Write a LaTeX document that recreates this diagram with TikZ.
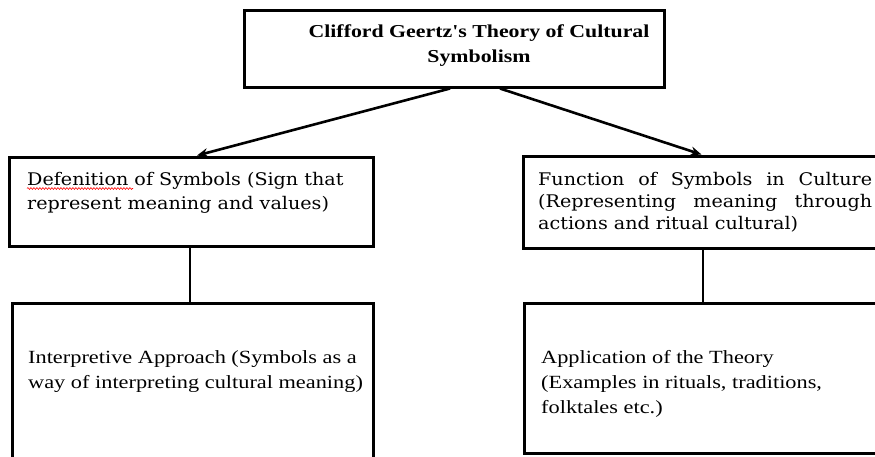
\documentclass[tikz,border=0pt]{standalone}
\usepackage{fontspec}
\setmainfont{Liberation Serif}[FakeStretch=1.2]
\newfontfamily\titlefont{Liberation Serif}[FakeStretch=1.2]
\newfontfamily\geofont{DejaVu Serif}[FakeStretch=1.1]
\usetikzlibrary{arrows.meta,decorations.pathmorphing}
\begin{document}
\begin{tikzpicture}[x=1pt,y=-1pt,
  box/.style={draw=black,line width=3pt,rectangle,inner sep=0pt,fill=white},
  conn/.style={line width=2.6pt,draw=black},
  arr/.style={conn,-{Stealth[length=11pt,width=9pt]}},
  txt/.style={inner sep=0pt,anchor=base west,align=left}]
\clip (0,0) rectangle (875,456);
\fill[white] (0,0) rectangle (875,456);
% boxes
\node[box,minimum width=420pt,minimum height=77pt] (T) at (454,48.5) {};
\node[box,minimum width=364pt,minimum height=89pt] (L1) at (191,201.5) {};
\node[box,minimum width=357pt,minimum height=92pt] (R1) at (701.5,202) {};
\node[box,minimum width=361pt,minimum height=180pt] (L2) at (192.5,393) {};
\node[box,minimum width=356pt,minimum height=150pt] (R2) at (702,378) {};
% texts (base anchor = baseline of last line)
\node[inner sep=0pt,align=center,font=\titlefont\bfseries\fontsize{18.2}{25}\selectfont,anchor=base] (Tt) at (479,62)
  {Clifford Geertz's Theory of Cultural\\Symbolism};
\node[txt,font=\geofont\fontsize{17.4}{24}\selectfont] (L1t) at (27,209)
  {Defenition of Symbols (Sign that\\represent meaning and values)};
\node[txt,font=\geofont\fontsize{17.4}{22}\selectfont] (R1t) at (538,229)
  {\hbox to 334pt{Function\hfill of\hfill Symbols\hfill in\hfill Culture}\\
   \hbox to 334pt{(Representing\hfill meaning\hfill through}\\
   actions and ritual cultural)};
\node[txt,font=\fontsize{18.6}{25}\selectfont] (L2t) at (28,388)
  {Interpretive Approach (Symbols as a\\way of interpreting cultural meaning)};
\node[txt,font=\fontsize{18.6}{25}\selectfont] (R2t) at (541,413)
  {Application of the Theory\\(Examples in rituals, traditions,\\folktales etc.)};
% spell-check squiggle
\coordinate (sqA) at (27,188.5);
\coordinate (sqB) at (133,188.5);
\draw[red,line width=0.6pt,decorate,decoration={snake,amplitude=0.9pt,segment length=3pt}] (sqA) -- (sqB);
% connectors
\draw[arr] ([xshift=-4pt]T.south) -- ([xshift=6pt]L1.north);
\draw[arr] ([xshift=46pt]T.south) -- (R1.north);
\draw[conn] ([xshift=-1pt]L1.south) -- ([xshift=-2.5pt]L2.north);
\draw[conn] ([xshift=1.5pt]R1.south) -- ([xshift=1pt]R2.north);
\end{tikzpicture}
\end{document}
